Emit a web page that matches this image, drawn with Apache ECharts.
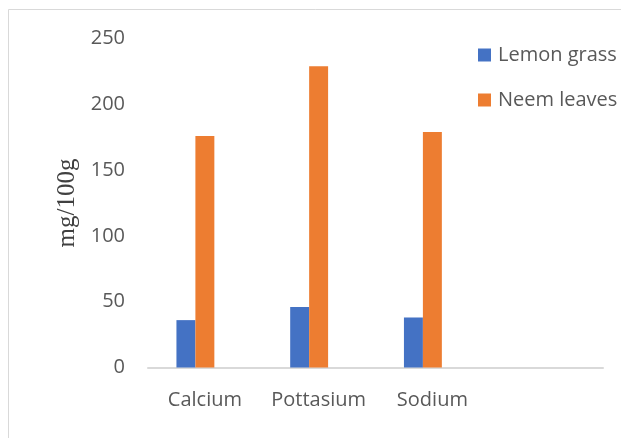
<!DOCTYPE html>
<html>
<head>
<meta charset="utf-8">
<script src="https://cdn.jsdelivr.net/npm/echarts@6/dist/echarts.min.js"></script>
<style>
  html, body { margin: 0; padding: 0; background: #fff; }
  #chart { width: 621px; height: 438px; }
</style>
</head>
<body>
<div id="chart"></div>
<script>
// Mineral content per 100 g of dry leaf
const categories = ['Calcium', 'Pottasium', 'Sodium', ''];
const lemonGrass = [36, 46, 38];
const neemLeaves = [176, 229, 179];
const yTicks = { min: 0, max: 250, interval: 50 };
const yAxisTitle = 'mg/100g';

const textGrey = '#595959';
const labelFont = '"Open Sans", "Noto Sans", sans-serif';

const chart = echarts.init(document.getElementById('chart'), null, { renderer: 'canvas' });

chart.setOption({
  backgroundColor: '#ffffff',
  animation: false,
  graphic: [{
    type: 'rect',
    silent: true,
    shape: { x: 8.5, y: 9.5, width: 700, height: 500 },
    style: { fill: 'none', stroke: '#d9d9d9', lineWidth: 1 }
  }],
  legend: {
    orient: 'vertical',
    left: 478,
    top: 44,
    padding: 0,
    itemWidth: 13,
    itemHeight: 13,
    itemGap: 23,
    icon: 'rect',
    data: ['Lemon grass', 'Neem leaves'],
    textStyle: { color: textGrey, fontSize: 20, fontFamily: labelFont, lineHeight: 22, padding: [0, 0, 0, 2] }
  },
  grid: { left: 148, right: 18, top: 38.5, bottom: 70.5, containLabel: false },
  xAxis: {
    type: 'category',
    data: categories,
    boundaryGap: true,
    axisLine: { show: true, lineStyle: { color: '#d9d9d9', width: 2 } },
    axisTick: { show: false },
    axisLabel: { color: textGrey, fontSize: 20, fontFamily: labelFont, margin: 23, interval: 0 },
    splitLine: { show: false }
  },
  yAxis: {
    type: 'value',
    min: yTicks.min,
    max: yTicks.max,
    interval: yTicks.interval,
    name: yAxisTitle,
    nameLocation: 'middle',
    nameGap: 67,
    nameRotate: 90,
    nameTextStyle: { color: '#404040', fontSize: 25, fontFamily: '"Liberation Serif", "DejaVu Serif", serif' },
    axisLine: { show: false },
    axisTick: { show: false },
    splitLine: { show: false },
    axisLabel: { color: textGrey, fontSize: 20, fontFamily: labelFont, margin: 23 }
  },
  series: [
    {
      name: 'Lemon grass',
      type: 'bar',
      data: lemonGrass,
      barGap: '0%',
      barCategoryGap: '50%',
      itemStyle: { color: '#4472C4' }
    },
    {
      name: 'Neem leaves',
      type: 'bar',
      data: neemLeaves,
      itemStyle: { color: '#ED7D31' }
    },
    {
      // empty third slot in each category group
      name: '',
      type: 'bar',
      data: [],
      itemStyle: { color: '#A5A5A5' }
    }
  ]
});
</script>
</body>
</html>
